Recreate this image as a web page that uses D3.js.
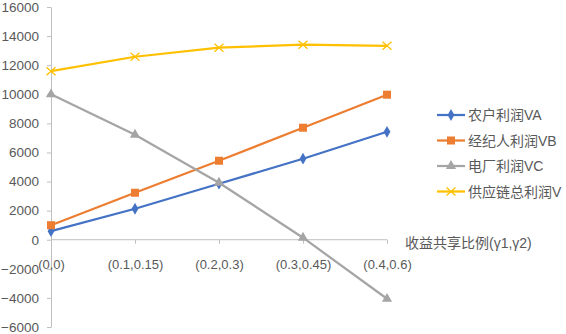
<!DOCTYPE html>
<meta charset="utf-8">
<style>
body { margin: 0; background: #fff; }
text { font-family: "Liberation Sans", "Noto Sans CJK SC", sans-serif; fill: #595959; }
.axis path, .axis line { stroke: #bfbfbf; }
</style>
<svg width="566" height="334"></svg>
<script src="https://d3js.org/d3.v7.min.js"></script>
<script>

var categories = ["(0,0)", "(0.1,0.15)", "(0.2,0.3)", "(0.3,0.45)", "(0.4,0.6)"];
var va = [590, 2130, 3850, 5570, 7420];
var vb = [1000, 3230, 5430, 7700, 9970];
var vc = [10000, 7220, 3920, 140, -4060];
var vTotal = [11590, 12580, 13200, 13410, 13330];
var yTicks = [-6000, -4000, -2000, 0, 2000, 4000, 6000, 8000, 10000, 12000, 14000, 16000];

var series = [
  { name: "农户利润VA", values: va, color: "#4472C4", marker: "diamond" },
  { name: "经纪人利润VB", values: vb, color: "#ED7D31", marker: "square" },
  { name: "电厂利润VC", values: vc, color: "#A5A5A5", marker: "triangle" },
  { name: "供应链总利润V", values: vTotal, color: "#FFC000", marker: "x" }
];

var svg = d3.select("svg");

var x = d3.scalePoint().domain(categories).range([51, 387]);
var y = d3.scaleLinear().domain([-6000, 16000]).range([327, 7]);

// y axis
var yAxis = svg.append("g")
    .attr("class", "axis")
    .attr("transform", "translate(51,0)")
    .call(d3.axisLeft(y).tickValues(yTicks).tickSize(4).tickPadding(8).tickSizeOuter(0).tickFormat(d3.format("d")));
yAxis.selectAll("text").style("font-size", "13.5px").style("fill", "#595959");

// x axis at zero
var xAxis = svg.append("g")
    .attr("class", "axis")
    .attr("transform", "translate(0," + y(0) + ")")
    .call(d3.axisBottom(x).tickSize(4).tickSizeOuter(0).tickPadding(16));
xAxis.select(".domain").attr("d", "M51,0H387");
xAxis.selectAll("text").style("font-size", "13px").style("fill", "#595959");

var title = svg.append("text")
    .attr("x", 405).attr("y", 248)
    .style("font-size", "14px");
title.append("tspan").style("font-family", "'Noto Sans CJK SC'").text("收益共享比例");
title.append("tspan").style("font-family", "'Liberation Sans'").text("(γ1,γ2)");

var line = d3.line()
    .x(function(d, i) { return x(categories[i]); })
    .y(function(d) { return y(d); });

function drawMarker(g, type, color, cx, cy) {
  if (type === "diamond") {
    g.append("path").attr("d", d3.symbol(d3.symbolDiamond, 40)()).attr("transform", "translate(" + cx + "," + cy + ")").attr("fill", color);
  } else if (type === "square") {
    g.append("rect").attr("x", cx - 4).attr("y", cy - 4).attr("width", 8).attr("height", 8).attr("fill", color);
  } else if (type === "triangle") {
    g.append("path").attr("d", d3.symbol(d3.symbolTriangle, 45)()).attr("transform", "translate(" + cx + "," + cy + ")").attr("fill", color);
  } else {
    g.append("path").attr("d", "M-4.5,-4L4.5,4M-4.5,4L4.5,-4").attr("transform", "translate(" + cx + "," + cy + ")").attr("stroke", color).attr("stroke-width", 1.3).attr("fill", "none");
  }
}

series.forEach(function(s) {
  var g = svg.append("g");
  g.append("path")
      .datum(s.values)
      .attr("fill", "none")
      .attr("stroke", s.color)
      .attr("stroke-width", 2.25)
      .attr("d", line);
  s.values.forEach(function(v, i) {
    drawMarker(g, s.marker, s.color, x(categories[i]), y(v));
  });
});

// legend
var legend = svg.append("g");
series.forEach(function(s, i) {
  var ly = 115 + i * 25.5;
  var g = legend.append("g");
  g.append("line").attr("x1", 437).attr("x2", 465).attr("y1", ly).attr("y2", ly)
      .attr("stroke", s.color).attr("stroke-width", 2.25);
  drawMarker(g, s.marker, s.color, 451, ly);
  g.append("text").attr("x", 468).attr("y", ly + 5)
      .style("font-size", "14px")
      .text(s.name);
});

</script>
